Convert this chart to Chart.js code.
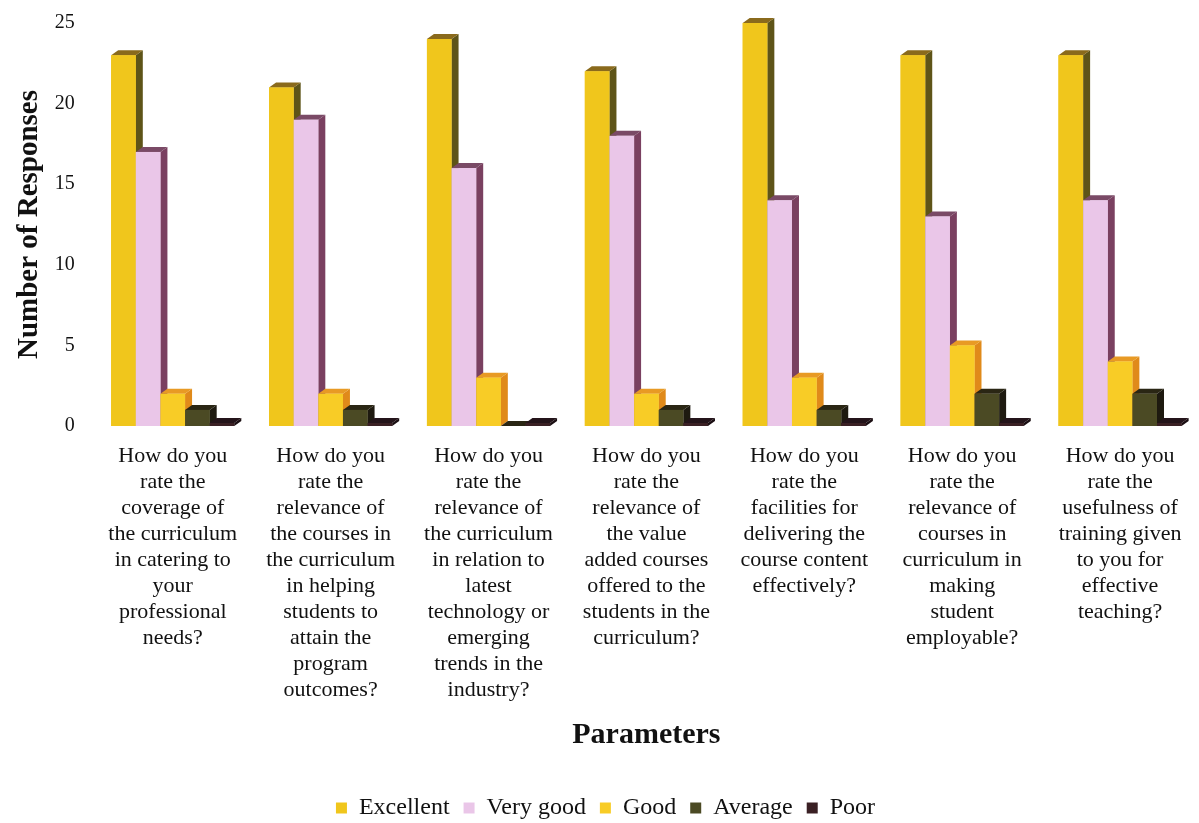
<!DOCTYPE html>
<html>
<head>
<meta charset="utf-8">
<script src="https://cdn.jsdelivr.net/npm/chart.js@4/dist/chart.umd.min.js"></script>
<style>
  html, body { margin: 0; padding: 0; background: #fff; }
  #wrap { width: 1199px; height: 823px; }
</style>
</head>
<body>
<div id="wrap"><canvas id="barChart"></canvas></div>
<script>
const categories = [
  ["How do you", "rate the", "coverage of", "the curriculum", "in catering to", "your", "professional", "needs?"],
  ["How do you", "rate the", "relevance of", "the courses in", "the curriculum", "in helping", "students to", "attain the", "program", "outcomes?"],
  ["How do you", "rate the", "relevance of", "the curriculum", "in relation to", "latest", "technology or", "emerging", "trends in the", "industry?"],
  ["How do you", "rate the", "relevance of", "the value", "added courses", "offered to the", "students in the", "curriculum?"],
  ["How do you", "rate the", "facilities for", "delivering the", "course content", "effectively?"],
  ["How do you", "rate the", "relevance of", "courses in", "curriculum in", "making", "student", "employable?"],
  ["How do you", "rate the", "usefulness of", "training given", "to you for", "effective", "teaching?"]
];
const excellent = [23, 21, 24, 22, 25, 23, 23];
const veryGood = [17, 19, 16, 18, 14, 13, 14];
const good = [2, 2, 3, 2, 3, 5, 4];
const average = [1, 1, 0, 1, 1, 2, 2];
const poor = [0, 0, 0, 0, 0, 0, 0];
const yMax = 25;
const yStep = 5;

const serif = "'Liberation Serif', 'DejaVu Serif', serif";

// fake 3D look: side and top faces drawn from each bar element
const depth3d = {
  id: "depth3d",
  afterDatasetsDraw(chart) {
    const ctx = chart.ctx;
    const dx = 7, dy = 5;
    chart.data.datasets.forEach((ds, i) => {
      const meta = chart.getDatasetMeta(i);
      if (meta.hidden) return;
      meta.data.forEach((bar) => {
        const { x, y, base, width } = bar.getProps(["x", "y", "base", "width"], true);
        const l = x - width / 2, r = x + width / 2;
        ctx.save();
        ctx.fillStyle = ds.sideColor;
        ctx.beginPath();
        ctx.moveTo(r, y);
        ctx.lineTo(r + dx, y - dy);
        ctx.lineTo(r + dx, base - dy);
        ctx.lineTo(r, base);
        ctx.closePath();
        ctx.fill();
        ctx.fillStyle = ds.topColor;
        ctx.beginPath();
        ctx.moveTo(l, y);
        ctx.lineTo(l + dx, y - dy);
        ctx.lineTo(r + dx, y - dy);
        ctx.lineTo(r, y);
        ctx.closePath();
        ctx.fill();
        ctx.fillStyle = ds.backgroundColor;
        ctx.fillRect(l, y, width, base - y);
        ctx.restore();
      });
    });
  }
};

const ctx = document.getElementById("barChart").getContext("2d");
new Chart(ctx, {
  type: "bar",
  data: {
    labels: categories,
    datasets: [
      { label: "Excellent", data: excellent, backgroundColor: "#f0c61c", sideColor: "#5e5418", topColor: "#8a6a1c" },
      { label: "Very good", data: veryGood, backgroundColor: "#eac6e8", sideColor: "#7a4060", topColor: "#7a4a66" },
      { label: "Good", data: good, backgroundColor: "#f8cc26", sideColor: "#e08a1a", topColor: "#e89a24" },
      { label: "Average", data: average, backgroundColor: "#4b4a24", sideColor: "#1e1a10", topColor: "#2a2614" },
      { label: "Poor", data: poor, backgroundColor: "#3a2024", sideColor: "#1a0e12", topColor: "#24141a", minBarLength: 3 }
    ]
  },
  options: {
    responsive: true,
    maintainAspectRatio: false,
    animation: false,
    layout: { padding: { left: 12, right: 0, top: -6, bottom: -7 } },
    datasets: {
      bar: { barPercentage: 1.0, categoryPercentage: 0.78 }
    },
    plugins: {
      tooltip: { enabled: false },
      legend: {
        position: "bottom",
        labels: {
          color: "#111",
          font: { family: serif, size: 24 },
          boxWidth: 11,
          boxHeight: 11,
          padding: 14
        }
      }
    },
    scales: {
      x: {
        grid: { display: false },
        border: { display: false },
        ticks: {
          color: "#111",
          font: { family: serif, size: 22, lineHeight: "26px" },
          maxRotation: 0,
          autoSkip: false,
          padding: 9
        },
        title: {
          display: true,
          text: "Parameters",
          color: "#111",
          font: { family: serif, size: 30, weight: "bold" },
          padding: { top: 5, bottom: 29 }
        }
      },
      y: {
        beginAtZero: true,
        max: yMax,
        grid: { display: false },
        border: { display: false },
        ticks: {
          stepSize: yStep,
          color: "#111",
          font: { family: serif, size: 20 },
          padding: 11
        },
        title: {
          display: true,
          text: "Number of Responses",
          color: "#111",
          font: { family: serif, size: 29, weight: "bold" },
          padding: { top: 0, bottom: -3 }
        }
      }
    }
  },
  plugins: [depth3d]
});
</script>
</body>
</html>
